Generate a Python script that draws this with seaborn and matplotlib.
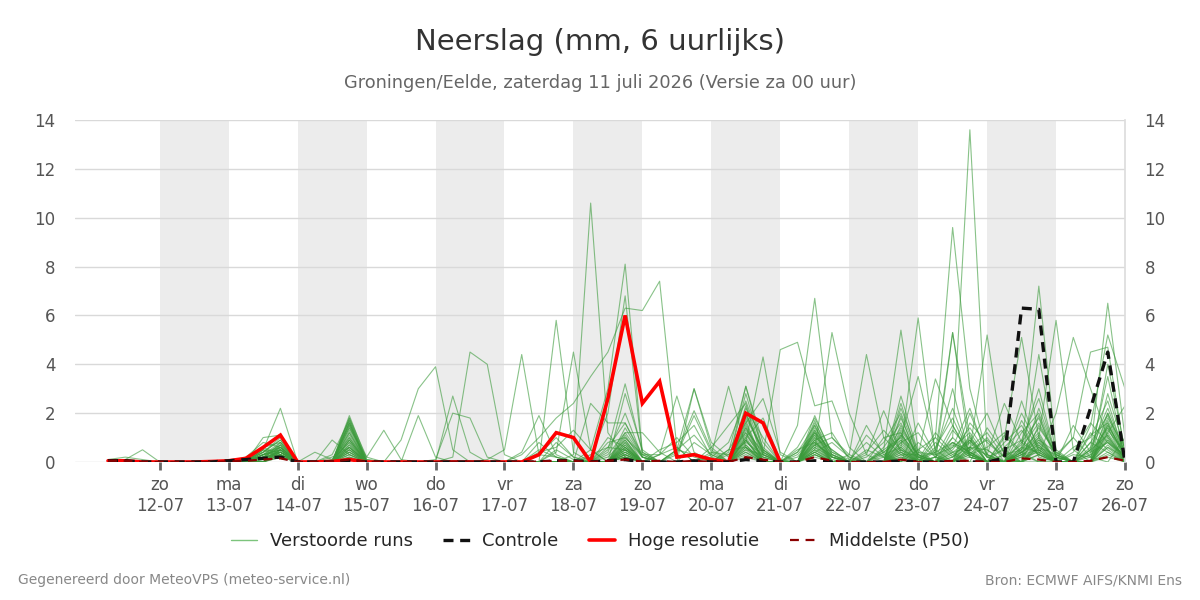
import pandas as pd
import numpy as np
import matplotlib
matplotlib.use("Agg")
import matplotlib.pyplot as plt
import seaborn as sns
from matplotlib.lines import Line2D

# 6-hourly steps, 11-07 06h .. 26-07 00h
times = pd.date_range("2026-07-11 06:00", periods=60, freq="6h")
day_ticks = pd.date_range("2026-07-12", "2026-07-26", freq="D")
day_names = ["zo", "ma", "di", "wo", "do", "vr", "za", "zo", "ma", "di", "wo", "do", "vr", "za", "zo"]
tick_labels = [f"{d}\n{t:%d-%m}" for d, t in zip(day_names, day_ticks)]

# Hoge resolutie (only 10 days)
hires = [0.05, 0.05, 0.0, 0.0, 0.0, 0.0, 0.02, 0.05, 0.15, 0.6,
         1.1, 0.0, 0.0, 0.02, 0.1, 0.0, 0.0, 0.0, 0.0, 0.0,
         0.0, 0.0, 0.0, 0.0, 0.0, 0.3, 1.2, 1.0, 0.0, 2.6,
         6.0, 2.4, 3.3, 0.2, 0.3, 0.1, 0.0, 2.0, 1.6, 0.0]

# Controle
control = [0.05, 0.05, 0.0, 0.0, 0.0, 0.0, 0.0, 0.05, 0.1, 0.15,
           0.2, 0.0, 0.0, 0.0, 0.05, 0.0, 0.0, 0.0, 0.0, 0.0,
           0.0, 0.0, 0.0, 0.0, 0.0, 0.0, 0.05, 0.05, 0.0, 0.05,
           0.1, 0.0, 0.0, 0.0, 0.05, 0.0, 0.0, 0.1, 0.05, 0.0,
           0.0, 0.05, 0.0, 0.0, 0.0, 0.0, 0.05, 0.0, 0.0, 0.0,
           0.0, 0.0, 0.15, 6.3, 6.25, 0.0, 0.0, 2.2, 4.5, 0.0]

# Middelste (P50)
p50 = [0.05, 0.05, 0.0, 0.0, 0.0, 0.0, 0.0, 0.02, 0.05, 0.1,
       0.15, 0.0, 0.0, 0.02, 0.1, 0.0, 0.0, 0.0, 0.0, 0.0,
       0.02, 0.02, 0.0, 0.0, 0.0, 0.02, 0.05, 0.05, 0.0, 0.05,
       0.1, 0.02, 0.05, 0.0, 0.05, 0.0, 0.0, 0.2, 0.1, 0.0,
       0.0, 0.2, 0.05, 0.0, 0.0, 0.0, 0.1, 0.0, 0.0, 0.05,
       0.05, 0.0, 0.0, 0.15, 0.1, 0.0, 0.0, 0.05, 0.2, 0.05]

# Verstoorde runs, {step: mm}, missing steps are 0
members = [
    {0:0.1,1:0.2,2:0.1, 9:0.5,10:2.2, 13:0.2,14:0.6, 18:1.9,19:0.2, 26:5.8,27:0.4, 29:0.5,30:3.2,31:0.4, 34:3.0,35:0.6, 37:2.8,38:0.4, 41:1.9,42:0.3, 46:2.7,47:0.4, 49:5.3,50:0.4, 53:1.2,54:2.0,55:0.2, 58:1.5,59:0.3},
    {1:0.1,2:0.5, 9:1.0,10:1.1, 14:1.9,15:0.1, 17:0.9,18:3.0,19:3.9,20:0.5, 25:0.3,26:1.0,27:0.2, 29:0.4,30:2.0,31:0.2, 36:0.5,37:0.6, 41:1.2,42:0.2, 44:0.5,45:0.2, 48:0.8,49:0.2,50:1.0, 53:0.4,54:1.1, 57:1.1,58:1.6,59:0.1},
    {0:0.1,1:0.1, 9:0.6,10:0.8, 14:1.8,15:0.2, 16:1.3,17:0.1, 20:2.7,21:0.4, 25:0.8,26:0.2, 28:2.4,29:1.6,30:1.6,31:0.2, 33:0.4,34:2.1,35:0.5, 37:2.2,38:1.0, 40:0.4,41:1.5,42:0.2, 45:1.0,46:1.2,47:0.1, 50:0.8,51:2.0,52:0.3, 55:0.2,56:1.0,57:0.2, 59:1.0},
    {8:0.1,9:0.4,10:0.9, 13:0.3,14:1.7,15:0.1, 19:0.1,20:2.0,21:1.8,22:0.2, 25:0.4,26:0.6,27:1.3,28:0.5, 30:1.2,31:1.2,32:0.4, 35:0.6,36:1.5,37:2.4,38:0.3, 40:0.2,41:1.0,42:0.5, 44:0.3,45:2.1,46:0.4, 48:0.5,49:2.2,50:0.3, 52:0.3,53:2.0,54:0.6, 57:0.5,58:2.0,59:0.4},
    {9:0.3,10:0.7, 14:1.6, 20:0.2,21:4.5,22:4.0,23:0.3, 26:0.5,27:0.1, 29:0.8,30:1.0,31:0.2, 33:0.5,34:1.1,35:0.3, 37:1.8,38:0.5, 41:0.9,42:1.2,43:0.1, 46:1.8,47:0.2, 49:1.0,50:0.3,51:0.6,52:1.2,53:0.4, 56:0.4,57:1.6,58:0.8,59:0.2},
    {9:0.2,10:0.6, 13:0.1,14:1.0, 22:0.1,23:0.5,24:4.4,25:0.3,26:0.2, 29:1.0,30:0.6, 32:0.3,33:1.0,34:0.2, 36:0.5,37:1.6,38:2.6,39:0.4, 41:1.4,42:0.3, 44:1.1,45:0.4, 47:1.6,48:0.3,49:0.6,50:2.2,51:0.2, 53:0.9,54:0.3, 57:0.3,58:3.5,59:0.1},
    {9:0.4,10:1.0, 14:1.4,15:0.2, 24:0.4,25:1.9,26:0.3, 28:0.3,29:0.6,30:0.5, 32:0.5,33:0.8,34:1.5,35:0.2, 37:3.1,38:0.8, 40:0.6,41:1.8,42:0.4, 44:0.2,45:0.8,46:2.0,47:0.3, 50:1.6,51:0.8,52:0.2, 54:1.5,55:0.3, 58:1.2,59:0.1},
    {9:0.3,10:0.5, 12:0.4,13:0.1,14:0.8, 26:0.4,27:4.5,28:0.5, 30:2.8,31:0.5, 33:0.3,34:1.9,35:0.4, 37:1.0,38:1.8,39:0.1, 41:0.7,42:1.0,43:0.3, 45:0.6,46:1.6,47:0.1, 48:1.2,49:0.4, 52:0.8,53:1.5,54:0.2, 56:0.6,57:1.0,58:2.5,59:0.2},
    {8:0.2,9:0.8,10:0.6, 13:0.9,14:0.3, 27:0.3,28:10.6,29:1.2,30:0.2, 32:0.3,33:0.6, 35:0.2,36:0.8,37:2.5,38:0.6, 40:0.3,41:1.1,42:0.2, 44:0.4,45:1.3,46:0.5, 48:0.2,49:1.5,50:0.3, 53:2.5,54:0.4, 57:0.2,58:1.8,59:0.6},
    {9:0.2,10:0.4, 14:1.5, 28:0.5,29:3.0,30:8.1,31:0.4, 33:0.5,34:0.3, 36:0.3,37:1.2,38:0.2, 40:0.5,41:0.8,42:0.2, 45:0.2,46:1.4,47:0.3, 49:0.6,50:1.2,51:0.2, 52:0.5,53:0.9,54:2.6,55:0.2, 57:0.4,58:1.4,59:0.2},
    {10:0.3, 14:1.2, 28:0.2,29:2.0,30:6.8,31:0.3, 34:0.8,35:0.3, 37:2.0,38:0.4, 41:1.6,42:0.4, 43:0.1,44:0.8,45:0.2, 47:0.5,48:1.0,49:0.3, 51:1.4,52:0.4, 54:0.9,55:0.4, 58:4.0,59:0.5},
    {9:0.1,10:0.5, 14:0.5, 24:0.3,25:1.0,26:1.8,27:2.4,28:3.5,29:4.5,30:6.3,31:6.2,32:7.4,33:0.6, 35:0.4,36:0.3,37:0.8,38:0.3, 41:0.6,42:0.2, 45:0.4,46:0.9,47:0.2, 49:0.8,50:0.4, 53:0.6,54:1.6,55:0.3, 58:0.9,59:0.2},
    {9:0.5,10:0.4, 14:0.3, 26:0.8,27:0.2, 30:1.0,31:0.3,32:0.3,33:2.7,34:0.4, 37:1.4,38:0.3, 41:0.4,42:0.8,43:0.2, 46:1.1,47:0.3, 49:1.3,50:0.5, 52:1.1,53:0.3, 56:1.5,57:0.4,58:0.8,59:0.3},
    {9:0.3,10:0.8, 14:0.7, 25:0.5,26:0.2, 29:0.6,30:1.6,31:0.3, 33:0.5,34:3.0,35:0.8,36:0.2,37:1.9,38:0.5, 41:1.3,42:0.3, 44:1.5,45:0.3, 47:0.8,48:0.2, 50:0.6,51:1.2,52:0.2,53:0.7,54:3.0,55:0.2, 58:1.1,59:0.1},
    {10:0.2, 14:0.9, 29:0.3,30:1.2,31:0.2, 35:0.3,36:3.1,37:0.6,38:0.2, 40:0.4,41:1.2,42:0.5, 46:2.2,47:0.4,48:0.3,49:3.0,50:0.2, 53:0.5,54:1.2, 57:0.6,58:2.2,59:0.4},
    {9:0.2,10:0.6, 14:0.4, 30:0.8, 36:0.4,37:3.1,38:0.5, 41:0.8,42:0.2, 45:0.5,46:1.0,47:0.1, 49:0.4,50:0.9,51:0.2, 53:1.7,54:0.5, 58:1.0},
    {9:0.4,10:0.9, 14:1.1, 30:0.5, 37:0.8,38:4.3,39:0.3, 41:0.5,42:0.1, 46:0.8,47:1.2,48:0.2, 50:2.0,51:0.3, 54:0.8,55:0.2, 58:2.8,59:0.5},
    {10:0.3, 14:0.2, 30:0.3, 37:0.5,38:0.3,39:4.6,40:4.9,41:2.3,42:2.5,43:0.6, 45:0.3,46:0.6, 48:0.6,49:1.8,50:0.3, 53:0.3,54:1.4,55:0.4, 57:0.8,58:0.4},
    {9:0.2,10:0.4, 14:0.6, 30:0.6, 37:1.1,38:0.2, 40:1.5,41:6.7,42:1.0,43:0.2, 46:0.5,47:0.2, 50:0.5,51:0.9,52:0.2, 54:0.6, 58:1.3,59:0.4},
    {10:0.5, 14:1.3, 29:0.2,30:0.9, 37:0.6, 41:0.5,42:5.3,43:2.0,44:0.3, 46:1.3,47:0.3, 49:0.5,50:1.4,51:0.3, 53:0.4,54:0.9, 58:0.6,59:0.2},
    {9:0.3,10:0.6, 14:0.9, 30:0.4, 37:0.9, 41:0.3, 43:0.3,44:4.4,45:1.0,46:0.3, 48:0.4,49:0.8,50:0.2, 52:0.6,53:1.3,54:0.3, 57:1.2,58:0.5},
    {9:0.6,10:0.3, 14:0.5, 30:0.7, 37:1.3,38:0.4, 41:1.0, 45:0.5,46:5.4,47:0.5, 49:0.2,50:0.9, 53:0.8,54:1.8,55:0.2, 58:2.0,59:0.3},
    {10:0.4, 14:1.6, 30:0.2, 37:0.4, 41:0.7,42:0.3, 46:0.6,47:5.9,48:0.3, 50:0.6,51:0.5, 53:0.3,54:0.7, 58:0.7},
    {9:0.2,10:0.7, 14:0.6, 30:1.4,31:0.2, 37:1.5, 41:0.9, 45:0.4,46:1.0,47:3.5,48:0.5, 50:0.3,51:1.0, 54:2.2,55:0.3, 58:1.6,59:0.2},
    {10:0.3, 14:1.0, 30:0.3, 37:0.7, 41:0.4, 46:0.3,47:0.3,48:3.4,49:1.5,50:0.2, 53:0.6,54:0.4, 57:0.5,58:1.1},
    {9:0.3,10:0.5, 14:0.4, 30:0.6, 37:2.0,38:0.3, 41:1.2, 46:0.4, 48:1.0,49:9.6,50:3.0,51:0.3, 53:0.4,54:0.8, 58:0.9},
    {10:0.6, 14:1.8, 30:0.4, 37:0.3, 41:0.3, 46:0.7, 48:0.2,49:1.0,50:13.6,51:0.5, 54:0.5, 58:0.4},
    {9:0.2,10:0.3, 14:0.3, 30:0.5, 37:1.7, 41:0.6, 46:1.5,47:0.2, 48:0.4,49:5.3,50:1.0,51:0.2, 53:0.2,54:1.0, 58:1.7,59:0.3},
    {10:0.4, 14:0.7, 30:0.3, 37:0.5, 41:1.5, 46:0.2, 50:0.5,51:5.2,52:0.5, 54:0.7, 57:0.3,58:0.8},
    {9:0.1,10:0.8, 14:1.4, 30:1.1, 37:0.9, 41:0.2, 46:0.9, 49:0.4,50:0.6,51:0.3,52:2.4,53:0.8,54:0.3, 57:0.8,58:1.9,59:0.2},
    {10:0.2, 14:0.5, 30:0.2, 37:1.0, 41:0.8, 46:0.6, 50:0.3, 52:0.3,53:0.5,54:7.2,55:0.5, 58:1.4},
    {9:0.4,10:0.6, 14:1.2, 30:0.8, 37:0.6, 41:1.1, 46:0.4, 49:0.7,50:0.3, 53:0.4,54:1.0,55:5.8,56:0.5, 58:0.6},
    {10:0.5, 14:0.8, 30:0.2, 37:1.2, 41:0.3, 46:1.2, 50:1.1, 54:0.3,55:2.0,56:5.1,57:3.0,58:1.0,59:0.2},
    {9:0.2,10:0.3, 14:0.6, 30:0.6, 37:0.4, 41:0.5, 46:0.3, 50:0.4, 54:0.6,55:0.3,56:1.0,57:4.5,58:4.7,59:0.3},
    {10:0.7, 14:1.7, 30:0.4, 37:2.3, 41:0.9, 46:0.8, 49:0.3,50:0.8, 53:0.2,54:0.4, 57:0.5,58:6.5,59:1.0},
    {9:0.3,10:0.4, 14:0.2, 30:0.9, 37:0.7, 41:0.4, 46:2.4,47:0.2, 50:0.2, 53:0.3,54:0.5, 57:1.5,58:5.2,59:3.0},
    {10:0.5, 14:0.9, 30:0.3, 37:1.4, 41:0.7, 46:0.5, 49:0.2,50:0.6, 52:1.0,53:5.1,54:1.0, 58:1.2,59:2.3},
    {9:0.5,10:0.2, 14:1.5, 30:0.5, 37:0.2, 41:1.7, 46:1.9, 50:0.4, 54:4.4,55:0.3, 58:0.3},
    {10:0.4, 14:0.4, 30:0.7, 37:1.6, 41:0.4, 46:0.2, 48:0.2,49:0.8,50:0.4, 53:0.5,54:1.9, 58:0.2},
    {9:0.3,10:0.5, 14:1.6, 30:0.2, 37:0.9, 41:1.3, 46:1.1, 50:0.9, 54:0.3, 56:0.3,57:0.2,58:1.5,59:0.3},
]

rows = []
for m, vals in enumerate(members):
    for i, t in enumerate(times):
        rows.append({"time": t, "mm": vals.get(i, 0.0), "member": m})
ens = pd.DataFrame(rows)

sns.set_theme(style="white")
plt.rcParams["font.family"] = ["DejaVu Sans"]

fig = plt.figure(figsize=(12, 6), dpi=100)
ax = fig.add_axes([0.0625, 0.23, 0.875, 0.57])

# alternating day shading
for k in range(0, 14, 2):
    ax.axvspan(day_ticks[k], day_ticks[k + 1], color="#ececec", zorder=0, lw=0)
ax.yaxis.grid(True, color="#d9d9d9", lw=1, zorder=1)
ax.set_axisbelow(True)

ens_col = "#3a9a3a"
sns.lineplot(data=ens, x="time", y="mm", units="member", estimator=None,
             color=ens_col, lw=0.8, alpha=0.6, ax=ax, legend=False)
ax.plot(times[:len(hires)], hires, color="#ff0000", lw=2.6, zorder=5,
        solid_joinstyle="miter")
ax.plot(times, control, color="#111111", lw=2.4, ls=(0, (3, 2)), zorder=6)
ax.plot(times, p50, color="#8b0000", lw=1.6, ls=(0, (4, 3)), zorder=7)

ax.set_xlim(times[0] - pd.Timedelta(hours=11.5), times[-1])
ax.set_ylim(0, 14)
ax.set_yticks(range(0, 15, 2))
ax.set_xticks(day_ticks)
ax.set_xticklabels(tick_labels)
ax.set_xlabel("")
ax.set_ylabel("")
ax.tick_params(axis="x", bottom=True, length=6, width=2, color="#666666",
               labelsize=12, labelcolor="#555555", pad=4)
ax.tick_params(axis="y", left=False, right=False, labelleft=True,
               labelright=True, labelsize=12, labelcolor="#555555", pad=8)
for side in ["top", "left", "bottom"]:
    ax.spines[side].set_visible(False)
ax.spines["right"].set_color("#dddddd")

fig.text(0.5, 0.93, "Neerslag (mm, 6 uurlijks)", ha="center", va="center",
         fontsize=21, color="#333333")
fig.text(0.5, 0.861, "Groningen/Eelde, zaterdag 11 juli 2026 (Versie za 00 uur)",
         ha="center", va="center", fontsize=12.8, color="#666666")

handles = [
    Line2D([], [], color="#7cc47c", lw=1),
    Line2D([], [], color="#111111", lw=2.4, ls=(0, (3, 2))),
    Line2D([], [], color="#ff0000", lw=2.6),
    Line2D([], [], color="#8b0000", lw=1.6, ls=(0, (4, 3))),
]
labels = ["Verstoorde runs", "Controle", "Hoge resolutie", "Middelste (P50)"]
fig.legend(handles, labels, loc="center", bbox_to_anchor=(0.5, 0.098), ncol=4,
           frameon=False, fontsize=13, handlelength=1.45, handletextpad=0.7,
           columnspacing=1.7)

fig.text(0.015, 0.033, "Gegenereerd door MeteoVPS (meteo-service.nl)",
         ha="left", va="center", fontsize=10, color="#888888")
fig.text(0.985, 0.033, "Bron: ECMWF AIFS/KNMI Ens", ha="right", va="center",
         fontsize=10, color="#888888")

fig.savefig("out.png", dpi=100)
